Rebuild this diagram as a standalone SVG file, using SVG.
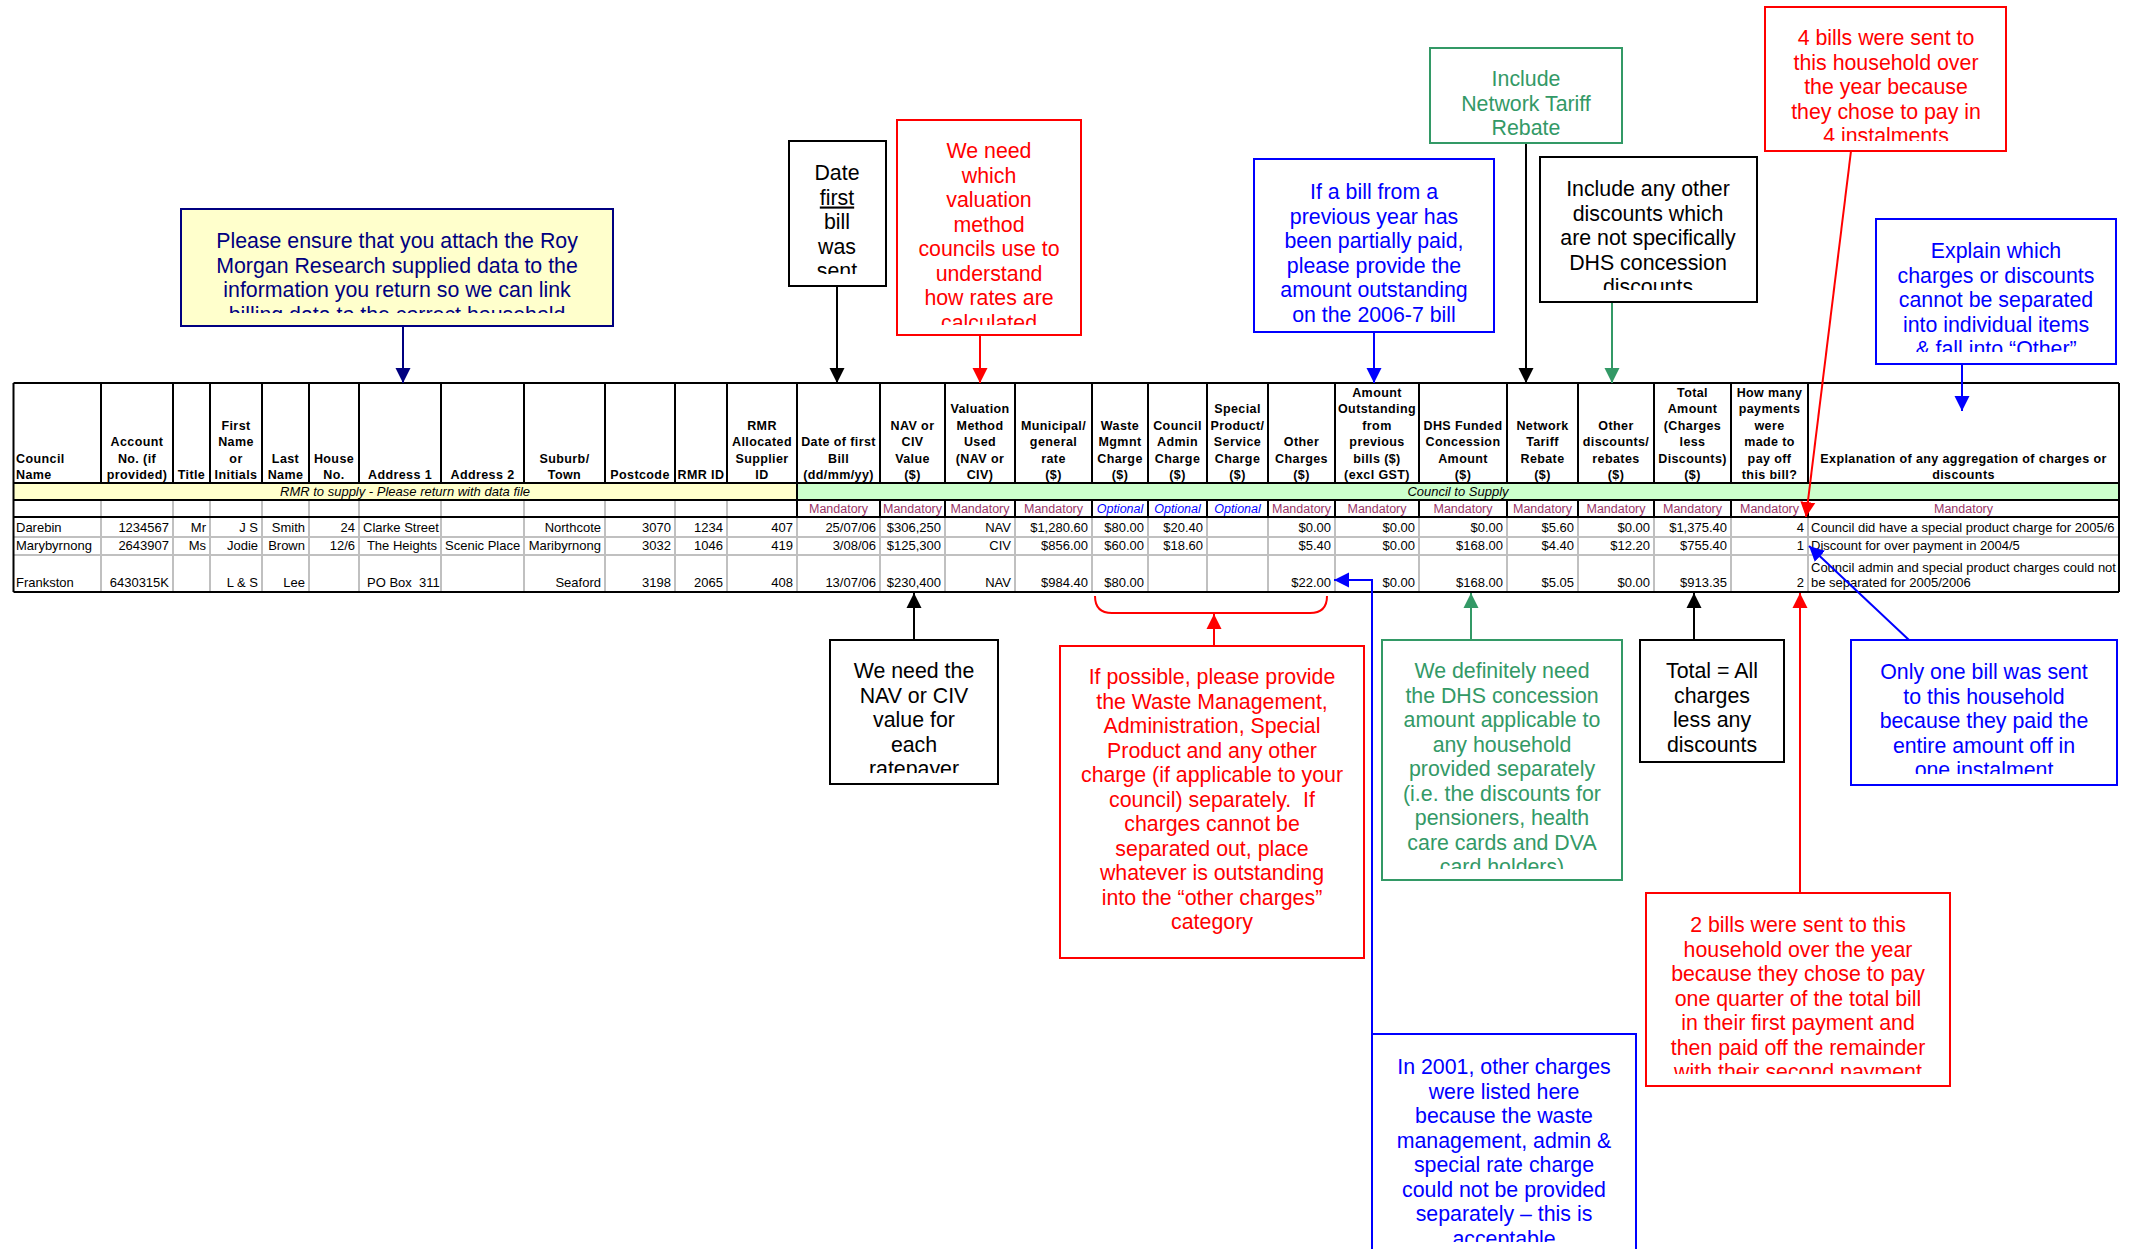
<svg xmlns="http://www.w3.org/2000/svg" width="2134" height="1249" viewBox="0 0 2134 1249">
<defs>
<style>
text{font-family:'Liberation Sans',Arial,sans-serif;fill:#000}
.h{font-size:12.5px;font-weight:bold;letter-spacing:0.4px;text-anchor:middle}
.hl{text-anchor:start}
.d{font-size:13px}
.e{text-anchor:end}
.man{font-size:12.5px;fill:#993366;text-anchor:middle}
.opt{font-size:12.5px;fill:#0000ff;font-style:italic;text-anchor:middle}
.band{font-size:13px;font-style:italic;text-anchor:middle}
.note{font-size:21.33px;text-anchor:middle}
.bk{stroke:#000;stroke-width:2;fill:none}
.gr{stroke:#c0c0c0;stroke-width:2;fill:none}
.box{stroke-width:2}
.red{fill:#ff0000}.blue{fill:#0000ff}.green{fill:#339966}.navy{fill:#000080}
.lr{stroke:#ff0000;stroke-width:2;fill:none}
.lb{stroke:#0000ff;stroke-width:2;fill:none}
.lg{stroke:#339966;stroke-width:2;fill:none}
.ln{stroke:#000080;stroke-width:2;fill:none}
.lk{stroke:#000;stroke-width:2;fill:none}
</style>
<marker id="ak" markerUnits="userSpaceOnUse" markerWidth="16" markerHeight="16" viewBox="0 0 16 16" refX="15" refY="8" orient="auto"><path d="M0,0.5 L15,8 L0,15.5 z" fill="#000"/></marker>
<marker id="ar" markerUnits="userSpaceOnUse" markerWidth="16" markerHeight="16" viewBox="0 0 16 16" refX="15" refY="8" orient="auto"><path d="M0,0.5 L15,8 L0,15.5 z" fill="#ff0000"/></marker>
<marker id="ab" markerUnits="userSpaceOnUse" markerWidth="16" markerHeight="16" viewBox="0 0 16 16" refX="15" refY="8" orient="auto"><path d="M0,0.5 L15,8 L0,15.5 z" fill="#0000ff"/></marker>
<marker id="ag" markerUnits="userSpaceOnUse" markerWidth="16" markerHeight="16" viewBox="0 0 16 16" refX="15" refY="8" orient="auto"><path d="M0,0.5 L15,8 L0,15.5 z" fill="#339966"/></marker>
<marker id="an" markerUnits="userSpaceOnUse" markerWidth="16" markerHeight="16" viewBox="0 0 16 16" refX="15" refY="8" orient="auto"><path d="M0,0.5 L15,8 L0,15.5 z" fill="#000080"/></marker>
<clipPath id="c1"><rect x="181" y="209" width="432" height="104"/></clipPath>
<clipPath id="c2"><rect x="789" y="141" width="97" height="133"/></clipPath>
<clipPath id="c3"><rect x="897" y="120" width="184" height="205"/></clipPath>
<clipPath id="c4"><rect x="1430" y="48" width="192" height="87"/></clipPath>
<clipPath id="c6"><rect x="1540" y="157" width="217" height="133"/></clipPath>
<clipPath id="c7"><rect x="1765" y="7" width="241" height="134"/></clipPath>
<clipPath id="c8"><rect x="1876" y="219" width="240" height="133"/></clipPath>
<clipPath id="c9"><rect x="830" y="640" width="168" height="133"/></clipPath>
<clipPath id="c11"><rect x="1382" y="640" width="240" height="229"/></clipPath>
<clipPath id="c13"><rect x="1851" y="640" width="266" height="134"/></clipPath>
<clipPath id="c14"><rect x="1646" y="893" width="304" height="181"/></clipPath>
<clipPath id="c15"><rect x="1372" y="1034" width="264" height="208"/></clipPath>
</defs>
<rect x="0" y="0" width="2134" height="1249" fill="#fff"/>

<g id="table">
<rect x="13.5" y="483" width="783.5" height="17" fill="#ffffcc"/>
<rect x="797" y="483" width="1322" height="17" fill="#ccffcc"/>
<line class="bk" x1="797" y1="483" x2="797" y2="500" stroke-width="1"/>
<g id="grid-header">
<path class="bk" d="M101,383V483M173,383V483M210,383V483M262,383V483M309,383V483M359,383V483M441,383V483M524,383V483M605,383V483M675,383V483M727,383V483M797,383V483M880,383V483M945,383V483M1015,383V483M1092,383V483M1148,383V483M1207,383V483M1268,383V483M1335,383V483M1419,383V483M1507,383V483M1578,383V483M1654,383V483M1731,383V483M1808,383V483"/>
<path class="gr" d="M101,500V517M173,500V517M210,500V517M262,500V517M309,500V517M359,500V517M441,500V517M524,500V517M605,500V517M675,500V517M727,500V517"/>
<path class="bk" d="M797,500V517M880,500V517M945,500V517M1015,500V517M1092,500V517M1148,500V517M1207,500V517M1268,500V517M1335,500V517M1419,500V517M1507,500V517M1578,500V517M1654,500V517M1731,500V517M1808,500V517"/>
<path class="gr" d="M101,517V592M173,517V592M210,517V592M262,517V592M309,517V592M359,517V592M441,517V592M524,517V592M605,517V592M675,517V592M727,517V592M797,517V592M880,517V592M945,517V592M1015,517V592M1092,517V592M1148,517V592M1207,517V592M1268,517V592M1335,517V592M1419,517V592M1507,517V592M1578,517V592M1654,517V592M1731,517V592M1808,517V592"/>
<path class="gr" d="M13.5,537H2119M13.5,555H2119"/>
<path class="bk" d="M13.5,383H2119M13.5,500H2119M13.5,592H2119M13.5,383V592M2119,383V592"/>
<path class="bk" stroke-width="3" d="M13.5,483H2119M13.5,517H2119"/>
</g>
<g id="header-text" class="h">
<text class="h hl" x="16" y="462.5">Council</text><text class="h hl" x="16" y="479">Name</text>
<text class="h" x="137" y="446">Account</text><text class="h" x="137" y="462.5">No. (if</text><text class="h" x="137" y="479">provided)</text>
<text class="h" x="191.5" y="479">Title</text>
<text class="h" x="236" y="429.5">First</text><text class="h" x="236" y="446">Name</text><text class="h" x="236" y="462.5">or</text><text class="h" x="236" y="479">Initials</text>
<text class="h" x="285.5" y="462.5">Last</text><text class="h" x="285.5" y="479">Name</text>
<text class="h" x="334" y="462.5">House</text><text class="h" x="334" y="479">No.</text>
<text class="h" x="400" y="479">Address 1</text>
<text class="h" x="482.5" y="479">Address 2</text>
<text class="h" x="564.5" y="462.5">Suburb/</text><text class="h" x="564.5" y="479">Town</text>
<text class="h" x="640" y="479">Postcode</text>
<text class="h" x="701" y="479">RMR ID</text>
<text class="h" x="762" y="429.5">RMR</text><text class="h" x="762" y="446">Allocated</text><text class="h" x="762" y="462.5">Supplier</text><text class="h" x="762" y="479">ID</text>
<text class="h" x="838.5" y="446">Date of first</text><text class="h" x="838.5" y="462.5">Bill</text><text class="h" x="838.5" y="479">(dd/mm/yy)</text>
<text class="h" x="912.5" y="429.5">NAV or</text><text class="h" x="912.5" y="446">CIV</text><text class="h" x="912.5" y="462.5">Value</text><text class="h" x="912.5" y="479">($)</text>
<text class="h" x="980" y="413">Valuation</text><text class="h" x="980" y="429.5">Method</text><text class="h" x="980" y="446">Used</text><text class="h" x="980" y="462.5">(NAV or</text><text class="h" x="980" y="479">CIV)</text>
<text class="h" x="1053.5" y="429.5">Municipal/</text><text class="h" x="1053.5" y="446">general</text><text class="h" x="1053.5" y="462.5">rate</text><text class="h" x="1053.5" y="479">($)</text>
<text class="h" x="1120" y="429.5">Waste</text><text class="h" x="1120" y="446">Mgmnt</text><text class="h" x="1120" y="462.5">Charge</text><text class="h" x="1120" y="479">($)</text>
<text class="h" x="1177.5" y="429.5">Council</text><text class="h" x="1177.5" y="446">Admin</text><text class="h" x="1177.5" y="462.5">Charge</text><text class="h" x="1177.5" y="479">($)</text>
<text class="h" x="1237.5" y="413">Special</text><text class="h" x="1237.5" y="429.5">Product/</text><text class="h" x="1237.5" y="446">Service</text><text class="h" x="1237.5" y="462.5">Charge</text><text class="h" x="1237.5" y="479">($)</text>
<text class="h" x="1301.5" y="446">Other</text><text class="h" x="1301.5" y="462.5">Charges</text><text class="h" x="1301.5" y="479">($)</text>
<text class="h" x="1377" y="396.5">Amount</text><text class="h" x="1377" y="413">Outstanding</text><text class="h" x="1377" y="429.5">from</text><text class="h" x="1377" y="446">previous</text><text class="h" x="1377" y="462.5">bills ($)</text><text class="h" x="1377" y="479">(excl GST)</text>
<text class="h" x="1463" y="429.5">DHS Funded</text><text class="h" x="1463" y="446">Concession</text><text class="h" x="1463" y="462.5">Amount</text><text class="h" x="1463" y="479">($)</text>
<text class="h" x="1542.5" y="429.5">Network</text><text class="h" x="1542.5" y="446">Tariff</text><text class="h" x="1542.5" y="462.5">Rebate</text><text class="h" x="1542.5" y="479">($)</text>
<text class="h" x="1616" y="429.5">Other</text><text class="h" x="1616" y="446">discounts/</text><text class="h" x="1616" y="462.5">rebates</text><text class="h" x="1616" y="479">($)</text>
<text class="h" x="1692.5" y="396.5">Total</text><text class="h" x="1692.5" y="413">Amount</text><text class="h" x="1692.5" y="429.5">(Charges</text><text class="h" x="1692.5" y="446">less</text><text class="h" x="1692.5" y="462.5">Discounts)</text><text class="h" x="1692.5" y="479">($)</text>
<text class="h" x="1769.5" y="396.5">How many</text><text class="h" x="1769.5" y="413">payments</text><text class="h" x="1769.5" y="429.5">were</text><text class="h" x="1769.5" y="446">made to</text><text class="h" x="1769.5" y="462.5">pay off</text><text class="h" x="1769.5" y="479">this bill?</text>
<text class="h" x="1963.5" y="462.5">Explanation of any aggregation of charges or</text><text class="h" x="1963.5" y="479">discounts</text>
</g>
<g id="band-text">
<text class="band" x="405" y="496">RMR to supply - Please return with data file</text>
<text class="band" x="1458" y="496">Council to Supply</text>
</g>
<g id="requirement-row">
<text class="man" x="838.5" y="513">Mandatory</text>
<text class="man" x="912.5" y="513">Mandatory</text>
<text class="man" x="980" y="513">Mandatory</text>
<text class="man" x="1053.5" y="513">Mandatory</text>
<text class="opt" x="1120" y="513">Optional</text>
<text class="opt" x="1177.5" y="513">Optional</text>
<text class="opt" x="1237.5" y="513">Optional</text>
<text class="man" x="1301.5" y="513">Mandatory</text>
<text class="man" x="1377" y="513">Mandatory</text>
<text class="man" x="1463" y="513">Mandatory</text>
<text class="man" x="1542.5" y="513">Mandatory</text>
<text class="man" x="1616" y="513">Mandatory</text>
<text class="man" x="1692.5" y="513">Mandatory</text>
<text class="man" x="1769.5" y="513">Mandatory</text>
<text class="man" x="1963.5" y="513">Mandatory</text>
</g>
<g id="row-darebin" class="d">
<text class="d" x="16" y="531.5">Darebin</text>
<text class="d e" x="169" y="531.5">1234567</text>
<text class="d e" x="206" y="531.5">Mr</text>
<text class="d e" x="258" y="531.5">J S</text>
<text class="d e" x="305" y="531.5">Smith</text>
<text class="d e" x="355" y="531.5">24</text>
<text class="d" x="363" y="531.5">Clarke Street</text>
<text class="d e" x="601" y="531.5">Northcote</text>
<text class="d e" x="671" y="531.5">3070</text>
<text class="d e" x="723" y="531.5">1234</text>
<text class="d e" x="793" y="531.5">407</text>
<text class="d e" x="876" y="531.5">25/07/06</text>
<text class="d e" x="941" y="531.5">$306,250</text>
<text class="d e" x="1011" y="531.5">NAV</text>
<text class="d e" x="1088" y="531.5">$1,280.60</text>
<text class="d e" x="1144" y="531.5">$80.00</text>
<text class="d e" x="1203" y="531.5">$20.40</text>
<text class="d e" x="1331" y="531.5">$0.00</text>
<text class="d e" x="1415" y="531.5">$0.00</text>
<text class="d e" x="1503" y="531.5">$0.00</text>
<text class="d e" x="1574" y="531.5">$5.60</text>
<text class="d e" x="1650" y="531.5">$0.00</text>
<text class="d e" x="1727" y="531.5">$1,375.40</text>
<text class="d e" x="1804" y="531.5">4</text>
<text class="d" x="1811" y="531.5">Council did have a special product charge for 2005/6</text>
</g>
<g id="row-marybyrnong">
<text class="d" x="16" y="550">Marybyrnong</text>
<text class="d e" x="169" y="550">2643907</text>
<text class="d e" x="206" y="550">Ms</text>
<text class="d e" x="258" y="550">Jodie</text>
<text class="d e" x="305" y="550">Brown</text>
<text class="d e" x="355" y="550">12/6</text>
<text class="d e" x="437" y="550">The Heights</text>
<text class="d" x="445" y="550">Scenic Place</text>
<text class="d e" x="601" y="550">Maribyrnong</text>
<text class="d e" x="671" y="550">3032</text>
<text class="d e" x="723" y="550">1046</text>
<text class="d e" x="793" y="550">419</text>
<text class="d e" x="876" y="550">3/08/06</text>
<text class="d e" x="941" y="550">$125,300</text>
<text class="d e" x="1011" y="550">CIV</text>
<text class="d e" x="1088" y="550">$856.00</text>
<text class="d e" x="1144" y="550">$60.00</text>
<text class="d e" x="1203" y="550">$18.60</text>
<text class="d e" x="1331" y="550">$5.40</text>
<text class="d e" x="1415" y="550">$0.00</text>
<text class="d e" x="1503" y="550">$168.00</text>
<text class="d e" x="1574" y="550">$4.40</text>
<text class="d e" x="1650" y="550">$12.20</text>
<text class="d e" x="1727" y="550">$755.40</text>
<text class="d e" x="1804" y="550">1</text>
<text class="d" x="1811" y="550">Discount for over payment in 2004/5</text>
</g>
<g id="row-frankston">
<text class="d" x="16" y="587">Frankston</text>
<text class="d e" x="169" y="587">6430315K</text>
<text class="d e" x="258" y="587">L &amp; S</text>
<text class="d e" x="305" y="587">Lee</text>
<text class="d" x="367" y="587" xml:space="preserve">PO Box  311</text>
<text class="d e" x="601" y="587">Seaford</text>
<text class="d e" x="671" y="587">3198</text>
<text class="d e" x="723" y="587">2065</text>
<text class="d e" x="793" y="587">408</text>
<text class="d e" x="876" y="587">13/07/06</text>
<text class="d e" x="941" y="587">$230,400</text>
<text class="d e" x="1011" y="587">NAV</text>
<text class="d e" x="1088" y="587">$984.40</text>
<text class="d e" x="1144" y="587">$80.00</text>
<text class="d e" x="1331" y="587">$22.00</text>
<text class="d e" x="1415" y="587">$0.00</text>
<text class="d e" x="1503" y="587">$168.00</text>
<text class="d e" x="1574" y="587">$5.05</text>
<text class="d e" x="1650" y="587">$0.00</text>
<text class="d e" x="1727" y="587">$913.35</text>
<text class="d e" x="1804" y="587">2</text>
<text class="d" x="1811" y="571.5">Council admin and special product charges could not</text>
<text class="d" x="1811" y="587">be separated for 2005/2006</text>
</g>
</g>

<g id="connectors">
<path class="ln" d="M403,326V383" marker-end="url(#an)"/>
<path class="lk" d="M837,286V383" marker-end="url(#ak)"/>
<path class="lr" d="M980,335V383" marker-end="url(#ar)"/>
<path class="lb" d="M1374,332V383" marker-end="url(#ab)"/>
<path class="lk" d="M1526,143V383" marker-end="url(#ak)"/>
<path class="lg" d="M1612,302V383" marker-end="url(#ag)"/>
<path class="lr" d="M1851,151L1806,517" marker-end="url(#ar)"/>
<path class="lb" d="M1962,364V411" marker-end="url(#ab)"/>
<path class="lk" d="M914,640V593" marker-end="url(#ak)"/>
<path class="lr" d="M1095,596Q1095,613 1112,613H1310Q1327,613 1327,596"/>
<path class="lr" d="M1214,646V614" marker-end="url(#ar)"/>
<path class="lg" d="M1471,640V593" marker-end="url(#ag)"/>
<path class="lk" d="M1694,640V593" marker-end="url(#ak)"/>
<path class="lr" d="M1800,893V593" marker-end="url(#ar)"/>
<path class="lb" d="M1909,640L1809,546" marker-end="url(#ab)"/>
<path class="lb" d="M1372,1034V580H1334" marker-end="url(#ab)"/>
</g>

<g id="note-attach">
<rect class="box" x="181" y="209" width="432" height="117" fill="#ffffcc" stroke="#000080"/>
<g clip-path="url(#c1)">
<text class="note navy" x="397" y="248">Please ensure that you attach the Roy</text>
<text class="note navy" x="397" y="272.5">Morgan Research supplied data to the</text>
<text class="note navy" x="397" y="297">information you return so we can link</text>
<text class="note navy" x="397" y="321.5">billing data to the correct household</text>
</g>
</g>
<g id="note-date">
<rect class="box" x="789" y="141" width="97" height="145" fill="#fff" stroke="#000"/>
<g clip-path="url(#c2)">
<text class="note" x="837" y="180">Date</text>
<text class="note" x="837" y="204.5" text-decoration="underline">first</text>
<text class="note" x="837" y="229">bill</text>
<text class="note" x="837" y="253.5">was</text>
<text class="note" x="837" y="278">sent</text>
</g>
</g>
<g id="note-valuation">
<rect class="box" x="897" y="120" width="184" height="215" fill="#fff" stroke="#ff0000"/>
<g clip-path="url(#c3)">
<text class="note red" x="989" y="158">We need</text>
<text class="note red" x="989" y="182.5">which</text>
<text class="note red" x="989" y="207">valuation</text>
<text class="note red" x="989" y="231.5">method</text>
<text class="note red" x="989" y="256">councils use to</text>
<text class="note red" x="989" y="280.5">understand</text>
<text class="note red" x="989" y="305">how rates are</text>
<text class="note red" x="989" y="329.5">calculated</text>
</g>
</g>
<g id="note-network">
<rect class="box" x="1430" y="48" width="192" height="95" fill="#fff" stroke="#339966"/>
<g clip-path="url(#c4)">
<text class="note green" x="1526" y="86">Include</text>
<text class="note green" x="1526" y="110.5">Network Tariff</text>
<text class="note green" x="1526" y="135">Rebate</text>
</g>
</g>
<g id="note-outstanding">
<rect class="box" x="1254" y="159" width="240" height="173" fill="#fff" stroke="#0000ff"/>
<text class="note blue" x="1374" y="199">If a bill from a</text>
<text class="note blue" x="1374" y="223.5">previous year has</text>
<text class="note blue" x="1374" y="248">been partially paid,</text>
<text class="note blue" x="1374" y="272.5">please provide the</text>
<text class="note blue" x="1374" y="297">amount outstanding</text>
<text class="note blue" x="1374" y="321.5">on the 2006-7 bill</text>
</g>
<g id="note-other-discounts">
<rect class="box" x="1540" y="157" width="217" height="145" fill="#fff" stroke="#000"/>
<g clip-path="url(#c6)">
<text class="note" x="1648" y="196">Include any other</text>
<text class="note" x="1648" y="220.5">discounts which</text>
<text class="note" x="1648" y="245">are not specifically</text>
<text class="note" x="1648" y="269.5">DHS concession</text>
<text class="note" x="1648" y="294">discounts</text>
</g>
</g>
<g id="note-four-bills">
<rect class="box" x="1765" y="7" width="241" height="144" fill="#fff" stroke="#ff0000"/>
<g clip-path="url(#c7)">
<text class="note red" x="1886" y="45">4 bills were sent to</text>
<text class="note red" x="1886" y="69.5">this household over</text>
<text class="note red" x="1886" y="94">the year because</text>
<text class="note red" x="1886" y="118.5">they chose to pay in</text>
<text class="note red" x="1886" y="143">4 instalments</text>
</g>
</g>
<g id="note-explain">
<rect class="box" x="1876" y="219" width="240" height="145" fill="#fff" stroke="#0000ff"/>
<g clip-path="url(#c8)">
<text class="note blue" x="1996" y="258">Explain which</text>
<text class="note blue" x="1996" y="282.5">charges or discounts</text>
<text class="note blue" x="1996" y="307">cannot be separated</text>
<text class="note blue" x="1996" y="331.5">into individual items</text>
<text class="note blue" x="1996" y="356">&amp; fall into “Other”</text>
</g>
</g>
<g id="note-nav">
<rect class="box" x="830" y="640" width="168" height="144" fill="#fff" stroke="#000"/>
<g clip-path="url(#c9)">
<text class="note" x="914" y="678">We need the</text>
<text class="note" x="914" y="702.5">NAV or CIV</text>
<text class="note" x="914" y="727">value for</text>
<text class="note" x="914" y="751.5">each</text>
<text class="note" x="914" y="776">ratepayer</text>
</g>
</g>
<g id="note-separate-charges">
<rect class="box" x="1060" y="646" width="304" height="312" fill="#fff" stroke="#ff0000"/>
<text class="note red" x="1212" y="684">If possible, please provide</text>
<text class="note red" x="1212" y="708.5">the Waste Management,</text>
<text class="note red" x="1212" y="733">Administration, Special</text>
<text class="note red" x="1212" y="757.5">Product and any other</text>
<text class="note red" x="1212" y="782">charge (if applicable to your</text>
<text class="note red" x="1212" y="806.5" xml:space="preserve">council) separately.  If</text>
<text class="note red" x="1212" y="831">charges cannot be</text>
<text class="note red" x="1212" y="855.5">separated out, place</text>
<text class="note red" x="1212" y="880">whatever is outstanding</text>
<text class="note red" x="1212" y="904.5">into the “other charges”</text>
<text class="note red" x="1212" y="929">category</text>
</g>
<g id="note-dhs">
<rect class="box" x="1382" y="640" width="240" height="240" fill="#fff" stroke="#339966"/>
<g clip-path="url(#c11)">
<text class="note green" x="1502" y="678">We definitely need</text>
<text class="note green" x="1502" y="702.5">the DHS concession</text>
<text class="note green" x="1502" y="727">amount applicable to</text>
<text class="note green" x="1502" y="751.5">any household</text>
<text class="note green" x="1502" y="776">provided separately</text>
<text class="note green" x="1502" y="800.5">(i.e. the discounts for</text>
<text class="note green" x="1502" y="825">pensioners, health</text>
<text class="note green" x="1502" y="849.5">care cards and DVA</text>
<text class="note green" x="1502" y="874">card holders)</text>
</g>
</g>
<g id="note-total">
<rect class="box" x="1640" y="640" width="144" height="122" fill="#fff" stroke="#000"/>
<text class="note" x="1712" y="678">Total = All</text>
<text class="note" x="1712" y="702.5">charges</text>
<text class="note" x="1712" y="727">less any</text>
<text class="note" x="1712" y="751.5">discounts</text>
</g>
<g id="note-one-bill">
<rect class="box" x="1851" y="640" width="266" height="145" fill="#fff" stroke="#0000ff"/>
<g clip-path="url(#c13)">
<text class="note blue" x="1984" y="679">Only one bill was sent</text>
<text class="note blue" x="1984" y="703.5">to this household</text>
<text class="note blue" x="1984" y="728">because they paid the</text>
<text class="note blue" x="1984" y="752.5">entire amount off in</text>
<text class="note blue" x="1984" y="777">one instalment</text>
</g>
</g>
<g id="note-two-bills">
<rect class="box" x="1646" y="893" width="304" height="193" fill="#fff" stroke="#ff0000"/>
<g clip-path="url(#c14)">
<text class="note red" x="1798" y="932">2 bills were sent to this</text>
<text class="note red" x="1798" y="956.5">household over the year</text>
<text class="note red" x="1798" y="981">because they chose to pay</text>
<text class="note red" x="1798" y="1005.5">one quarter of the total bill</text>
<text class="note red" x="1798" y="1030">in their first payment and</text>
<text class="note red" x="1798" y="1054.5">then paid off the remainder</text>
<text class="note red" x="1798" y="1079">with their second payment</text>
</g>
</g>
<g id="note-2001">
<rect class="box" x="1372" y="1034" width="264" height="230" fill="#fff" stroke="#0000ff"/>
<g clip-path="url(#c15)">
<text class="note blue" x="1504" y="1074">In 2001, other charges</text>
<text class="note blue" x="1504" y="1098.5">were listed here</text>
<text class="note blue" x="1504" y="1123">because the waste</text>
<text class="note blue" x="1504" y="1147.5">management, admin &amp;</text>
<text class="note blue" x="1504" y="1172">special rate charge</text>
<text class="note blue" x="1504" y="1196.5">could not be provided</text>
<text class="note blue" x="1504" y="1221">separately – this is</text>
<text class="note blue" x="1504" y="1245.5">acceptable</text>
</g>
</g>
</svg>
